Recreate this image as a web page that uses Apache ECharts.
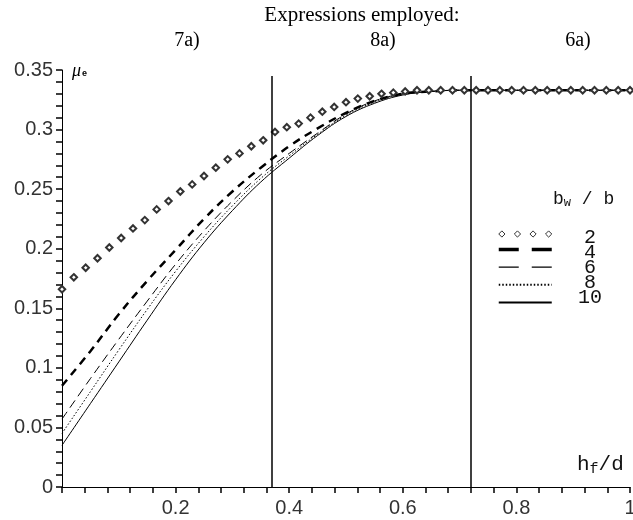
<!DOCTYPE html>
<html>
<head>
<meta charset="utf-8">
<script src="https://cdn.jsdelivr.net/npm/echarts@6/dist/echarts.min.js"></script>
<style>
    html, body { margin: 0; padding: 0; background: #fff; }
    #chart { width: 633px; height: 520px; }
</style>
</head>
<body>
<div id="chart"></div>
<script>
// h_f/d sample points of the diamond curve (b_w/b = 2)
var xDiamond = [0, 0.0208, 0.0417, 0.0625, 0.0833, 0.1042, 0.125, 0.1458, 0.1667, 0.1875,
    0.2083, 0.2292, 0.25, 0.2708, 0.2917, 0.3125, 0.3333, 0.3542, 0.375, 0.3958,
    0.4167, 0.4375, 0.4583, 0.4792, 0.5, 0.5208, 0.5417, 0.5625, 0.5833, 0.6042,
    0.625, 0.6458, 0.6667, 0.6875, 0.7083, 0.7292, 0.75, 0.7708, 0.7917, 0.8125,
    0.8333, 0.8542, 0.875, 0.8958, 0.9167, 0.9375, 0.9583, 0.9792, 1];
var mu2 = [0.166, 0.176, 0.184, 0.192, 0.201, 0.209, 0.217, 0.224, 0.233, 0.240,
    0.248, 0.254, 0.261, 0.268, 0.275, 0.280, 0.286, 0.291, 0.298, 0.302,
    0.305, 0.310, 0.315, 0.319, 0.323, 0.326, 0.328, 0.330, 0.331, 0.332,
    0.333, 0.333, 0.333, 0.333, 0.333, 0.333, 0.333, 0.333, 0.333, 0.333,
    0.333, 0.333, 0.333, 0.333, 0.333, 0.333, 0.333, 0.333, 0.333];

// h_f/d sample points of the line curves
var xLine = [0, 0.05, 0.1, 0.15, 0.2, 0.25, 0.3, 0.35, 0.4, 0.45, 0.5, 0.55, 0.6, 0.65, 0.7, 0.8, 0.9, 1];
var mu4  = [0.085, 0.114, 0.145, 0.173, 0.199, 0.225, 0.248, 0.268, 0.286, 0.301, 0.314, 0.324, 0.330, 0.332, 0.333, 0.333, 0.333, 0.333];
var mu6  = [0.057, 0.091, 0.124, 0.156, 0.187, 0.215, 0.240, 0.262, 0.280, 0.297, 0.313, 0.324, 0.330, 0.332, 0.333, 0.333, 0.333, 0.333];
var mu8  = [0.045, 0.080, 0.115, 0.149, 0.181, 0.210, 0.236, 0.259, 0.278, 0.296, 0.312, 0.323, 0.330, 0.332, 0.333, 0.333, 0.333, 0.333];
var mu10 = [0.035, 0.070, 0.105, 0.140, 0.174, 0.205, 0.232, 0.256, 0.276, 0.295, 0.311, 0.322, 0.329, 0.332, 0.333, 0.333, 0.333, 0.333];

var seriesNames = ['2', '4', '6', '8', '10'];
// limits between the expressions employed
var limits = [0.37, 0.72];
var zoneLabels = ['7a)', '8a)', '6a)'];

function pairs(xs, ys) {
    return xs.map(function (x, i) { return [x, ys[i]]; });
}

var myChart = echarts.init(document.getElementById('chart'));
var tickFont = { color: '#333', fontSize: 20, fontFamily: 'Liberation Sans' };
var tickLine = { color: '#000', width: 1.5 };
var noSymbol = { opacity: 0 };

var option = {
    animation: false,
    backgroundColor: '#fff',
    grid: { left: 62, right: 3, top: 70, bottom: 33, outerBoundsMode: 'none' },
    xAxis: {
        type: 'value',
        min: 0,
        max: 1,
        interval: 0.2,
        splitLine: { show: false },
        axisLine: { show: true, lineStyle: { color: '#000', width: 1 } },
        axisTick: { show: true, length: 6, lineStyle: tickLine },
        minorTick: { show: true, splitNumber: 5, length: 6, lineStyle: tickLine },
        axisLabel: Object.assign({ showMinLabel: false, margin: 11 }, tickFont)
    },
    yAxis: {
        type: 'value',
        min: 0,
        max: 0.35,
        interval: 0.05,
        splitLine: { show: false },
        axisLine: { show: true, lineStyle: { color: '#000', width: 1 } },
        axisTick: { show: true, length: 6, lineStyle: tickLine },
        minorTick: { show: true, splitNumber: 5, length: 6, lineStyle: tickLine },
        axisLabel: Object.assign({ margin: 9 }, tickFont)
    },
    legend: [
        {
            // symbols column
            orient: 'vertical',
            left: 492,
            top: 222,
            itemWidth: 53,
            itemHeight: 14,
            itemGap: 5,
            selectedMode: false,
            textStyle: { fontSize: 6 },
            formatter: function () { return ''; },
            data: [
                {
                    name: '2',
                    icon: 'path://M3,0L6,3L3,6L0,3ZM18,0L21,3L18,6L15,3ZM33,0L36,3L33,6L30,3ZM48,0L51,3L48,6L45,3Z',
                    itemStyle: { color: '#fff', borderColor: '#333', borderWidth: 1 }
                },
                { name: '4', itemStyle: noSymbol, lineStyle: { type: [20, 13], width: 3.5 } },
                { name: '6', itemStyle: noSymbol, lineStyle: { type: [20, 13], width: 1.2 } },
                { name: '8', itemStyle: noSymbol },
                { name: '10', itemStyle: noSymbol }
            ]
        },
        {
            // labels column
            orient: 'vertical',
            left: 568,
            top: 223,
            icon: 'none',
            itemWidth: 0,
            itemHeight: 10,
            itemGap: -5,
            selectedMode: false,
            formatter: '{a|{name}}',
            textStyle: {
                rich: {
                    a: { width: 24, align: 'center', fontSize: 20, fontFamily: 'Liberation Mono', color: '#111' }
                }
            },
            data: seriesNames
        }
    ],
    graphic: [
        {
            type: 'text', x: 362, y: 15,
            style: { text: 'Expressions employed:', align: 'center', verticalAlign: 'middle', fontSize: 21, fontFamily: 'Liberation Serif', fill: '#000' }
        },
        {
            type: 'text', x: 187, y: 41,
            style: { text: zoneLabels[0], align: 'center', verticalAlign: 'middle', fontSize: 20, fontFamily: 'Liberation Serif', fill: '#000' }
        },
        {
            type: 'text', x: 383, y: 41,
            style: { text: zoneLabels[1], align: 'center', verticalAlign: 'middle', fontSize: 20, fontFamily: 'Liberation Serif', fill: '#000' }
        },
        {
            type: 'text', x: 578, y: 41,
            style: { text: zoneLabels[2], align: 'center', verticalAlign: 'middle', fontSize: 20, fontFamily: 'Liberation Serif', fill: '#000' }
        },
        {
            type: 'text', x: 72, y: 71,
            style: {
                text: '{m|μ}{s|e}', verticalAlign: 'middle',
                rich: {
                    m: { fontSize: 18, fontStyle: 'italic', fontFamily: 'Liberation Serif', fill: '#000' },
                    s: { fontSize: 9, fontFamily: 'Liberation Sans', fontWeight: 'bold', fill: '#000', padding: [6, 0, 0, 1] }
                }
            }
        },
        {
            type: 'text', x: 577, y: 464,
            style: {
                text: '{a|h}{b|f}{a|/d}', verticalAlign: 'middle',
                rich: {
                    a: { fontSize: 21, fontFamily: 'Liberation Mono', fill: '#111' },
                    b: { fontSize: 15, fontFamily: 'Liberation Mono', fill: '#111', padding: [10, 0, 0, 0] }
                }
            }
        },
        {
            type: 'text', x: 553, y: 199,
            style: {
                text: '{a|b}{b|w}{a| / b}', verticalAlign: 'middle',
                rich: {
                    a: { fontSize: 18, fontFamily: 'Liberation Mono', fill: '#111' },
                    b: { fontSize: 12, fontFamily: 'Liberation Mono', fill: '#111', padding: [7, 0, 0, 0] }
                }
            }
        }
    ],
    series: [
        {
            name: '10',
            type: 'line',
            data: pairs(xLine, mu10),
            smooth: 0.4,
            symbol: 'none',
            color: '#000',
            lineStyle: { color: '#000', width: 1 },
            markLine: {
                silent: true,
                symbol: 'none',
                label: { show: false },
                lineStyle: { color: '#000', width: 1.5, type: 'solid' },
                data: limits.map(function (v) {
                    return [{ coord: [v, 0] }, { coord: [v, 0.345] }];
                })
            }
        },
        {
            name: '8',
            type: 'line',
            data: pairs(xLine, mu8),
            smooth: 0.4,
            symbol: 'none',
            color: '#000',
            lineStyle: { color: '#000', width: 1, type: [1.5, 2] }
        },
        {
            name: '6',
            type: 'line',
            data: pairs(xLine, mu6),
            smooth: 0.4,
            symbol: 'none',
            color: '#000',
            lineStyle: { color: '#000', width: 1, type: [9, 5] }
        },
        {
            name: '4',
            type: 'line',
            data: pairs(xLine, mu4),
            smooth: 0.4,
            symbol: 'none',
            color: '#000',
            lineStyle: { color: '#000', width: 2.5, type: [8, 6] }
        },
        {
            name: '2',
            type: 'line',
            data: pairs(xDiamond, mu2),
            symbol: 'emptyDiamond',
            symbolSize: 6.5,
            showAllSymbol: true,
            color: '#333',
            itemStyle: { color: '#333', borderWidth: 0.8 },
            lineStyle: { width: 0, opacity: 0 }
        }
    ]
};

myChart.setOption(option);
window.onresize = myChart.resize;
</script>
</body>
</html>
